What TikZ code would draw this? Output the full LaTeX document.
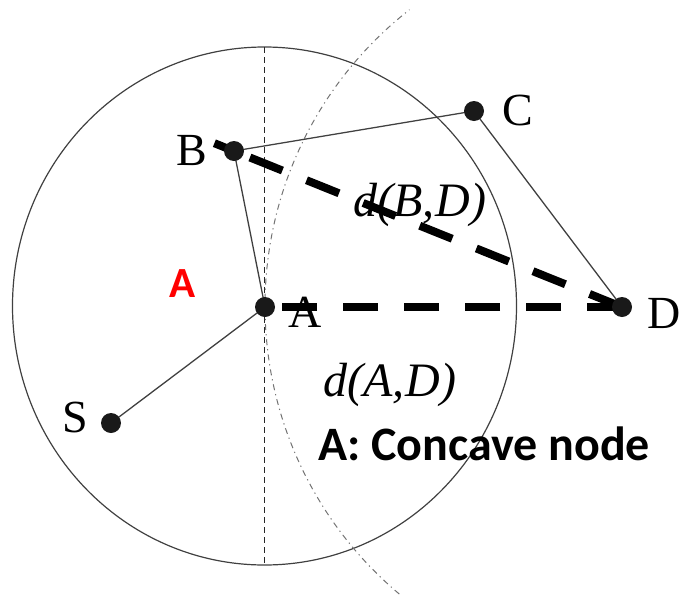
\documentclass[tikz,border=0pt]{standalone}
\usepackage{fontspec}
\setmainfont{Liberation Serif}
\newfontfamily\calfont{Carlito}
\pgfdeclarelayer{dots}
\pgfsetlayers{main,dots}
\begin{document}
\begin{tikzpicture}[x=1pt,y=-1pt,
  dot/.style={circle,fill=black!90,minimum size=20pt,inner sep=0pt},
  ltr/.style={font={\fontsize{46}{50}\selectfont}, inner sep=0pt, anchor=base},
  dist/.style={font={\fontsize{48}{52}\selectfont\itshape}, inner sep=0pt, anchor=base},
  edgeline/.style={line width=1.3pt, draw=black!75},
  thickdash/.style={line width=8pt, draw=black, dash pattern=on 35pt off 26pt},
  rangecircle/.style={line width=1.2pt, draw=black!75},
  vdash/.style={line width=1.1pt, draw=black!85, dash pattern=on 6pt off 4pt},
  arcline/.style={line width=1pt, draw=black!55, dash pattern=on 6pt off 4pt on 1.2pt off 4pt}]
\useasboundingbox (0,0) rectangle (681,595);

% dots (foreground layer)
\begin{pgfonlayer}{dots}
\node[dot] (A) at (265,307) {};
\node[dot] (B) at (234,151) {};
\node[dot] (C) at (474,111) {};
\node[dot] (D) at (622,307) {};
\node[dot] (S) at (111,423) {};
\end{pgfonlayer}

\coordinate (ctop) at (264.5,47);
\coordinate (cbot) at (264.5,565);
\coordinate (Bext) at (214.4,143.2);

% range circle, vertical dashed line, dash-dot arc
\draw[rangecircle] (264.5,306) ellipse [x radius=252, y radius=259];
\draw[vdash] (ctop) -- (cbot);
\draw[arcline] plot[smooth, domain=130:232, samples=90] ({641+376*cos(\x)},{306+376*sin(\x)});

% labels
\node[ltr] (lB) at (192,165) {B};
\node[ltr] (lC) at (518,125) {C};
\node[ltr] (lD) at (664,328) {D};
\node[ltr] (lA) at (305,327) {A};
\node[ltr] (lS) at (75,432) {S};
\node[dist] (dBD) at (420,216) {d(B,\kern1ptD)};
\node[dist] (dAD) at (390,396) {d(A,\kern1ptD)};
\node[anchor=base west, inner sep=0pt, font={\calfont\bfseries\fontsize{48}{52}\selectfont}] (cap) at (318,460) {A: Concave node};
\node[anchor=base, inner sep=0pt, text=red, font={\calfont\bfseries\fontsize{43}{47}\selectfont}] (redA) at (183,297) {A};

% thin edges
\draw[edgeline] (B.center) -- (C.center);
\draw[edgeline] (C.center) -- (D.center);
\draw[edgeline] (B.center) -- (A.center);
\draw[edgeline] (A.center) -- (S.center);

% thick dashed distances
\draw[thickdash] (D.center) -- (A.center);
\draw[thickdash] (D.center) -- (Bext);
\end{tikzpicture}
\end{document}
